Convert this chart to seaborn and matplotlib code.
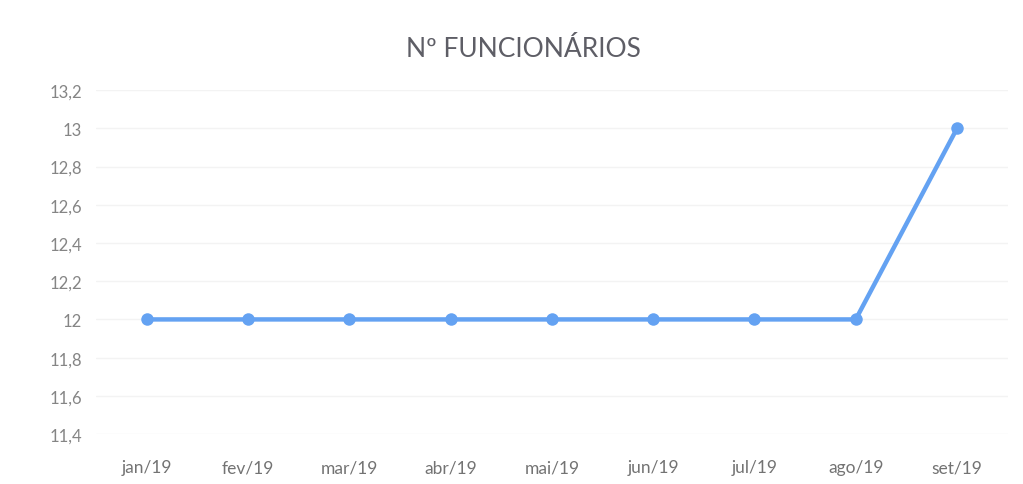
import matplotlib
matplotlib.use("Agg")
import matplotlib.pyplot as plt
import seaborn as sns
import pandas as pd

months = ["jan/19", "fev/19", "mar/19", "abr/19", "mai/19", "jun/19", "jul/19", "ago/19", "set/19"]
funcionarios = [12, 12, 12, 12, 12, 12, 12, 12, 13]
y_ticks = [11.4, 11.6, 11.8, 12.0, 12.2, 12.4, 12.6, 12.8, 13.0, 13.2]
y_tick_labels = ["11,4", "11,6", "11,8", "12", "12,2", "12,4", "12,6", "12,8", "13", "13,2"]
title = "Nº FUNCIONÁRIOS"

sns.set_theme(style="white")
plt.rcParams['font.family'] = ['Lato', 'DejaVu Sans']

df = pd.DataFrame({"mes": months, "valor": funcionarios, "pos": range(len(months))})

fig = plt.figure(figsize=(10.23, 4.85), dpi=100)
ax = fig.add_axes([0.094, 0.103, 0.891, 0.709])

sns.lineplot(data=df, x="pos", y="valor", ax=ax, color="#64A2F2", linewidth=3.2,
             marker="o", markersize=9, markeredgewidth=0, sort=False)

ax.set_xlim(-0.5, len(months) - 0.5)
ax.set_ylim(11.4, 13.2)
ax.set_yticks(y_ticks)
ax.set_yticklabels(y_tick_labels, color="#858585", fontsize=12)
ax.set_xticks(range(len(months)))
ax.set_xticklabels(months, color="#737373", fontsize=12.5)
ax.tick_params(axis="y", length=0, pad=10)
ax.tick_params(axis="x", length=0, pad=18)
ax.grid(axis="y", color="#F3F3F3", linewidth=1)
for s in ax.spines.values():
    s.set_visible(False)
ax.set_xlabel("")
ax.set_ylabel("")
fig.text(0.512, 0.898, title, ha="center", va="center", fontsize=19, color="#5E5E66")

fig.savefig("out.png", dpi=100, facecolor="white")
